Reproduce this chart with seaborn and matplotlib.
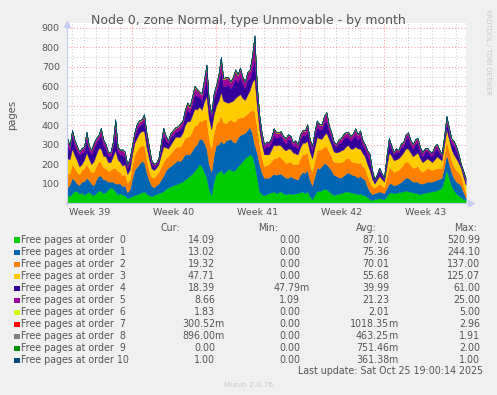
import matplotlib
matplotlib.use("Agg")
import matplotlib.pyplot as plt
import matplotlib.dates as mdates
from matplotlib.patches import Rectangle
from matplotlib.lines import Line2D
import numpy as np
import pandas as pd
import seaborn as sns

# samples every 4h48m over the month window
start = "2025-09-23 14:24"
n_points = 167

order0 = [40, 35, 50, 62, 60, 48, 55, 42, 50, 58, 45, 40, 50, 66, 60, 52, 55, 70, 80, 75, 60, 45, 50, 42,
          40, 25, 30, 35, 40, 45, 50, 55, 60, 48, 40, 35, 40, 45, 50, 55, 60, 72, 80, 85, 90, 95, 100, 105,
          110, 120, 130, 140, 150, 165, 180, 200, 190, 160, 130, 70, 40, 110, 150, 160, 170, 150, 160, 175, 170, 165, 170, 190,
          200, 215, 230, 240, 250, 240, 200, 130, 60, 45, 40, 45, 50, 55, 60, 50, 55, 60, 50, 45, 50, 48, 45, 50,
          50, 55, 60, 50, 60, 35, 20, 40, 60, 62, 65, 75, 70, 60, 50, 40, 45, 48, 50, 55, 60, 58, 55, 52,
          50, 45, 50, 42, 40, 30, 20, 15, 20, 22, 25, 22, 20, 35, 50, 55, 50, 52, 55, 58, 60, 65, 60, 58,
          55, 52, 50, 45, 50, 52, 55, 58, 60, 62, 65, 72, 80, 120, 170, 130, 90, 65, 50, 40, 30, 22, 14.09]
order1 = [40, 60, 80, 55, 40, 45, 55, 70, 80, 60, 55, 50, 70, 75, 80, 70, 65, 40, 30, 35, 40, 55, 50, 45,
          50, 30, 40, 90, 130, 140, 150, 160, 150, 110, 80, 55, 40, 45, 50, 65, 80, 95, 100, 105, 110, 115, 120, 110,
          120, 130, 120, 110, 120, 125, 120, 130, 140, 150, 150, 130, 120, 135, 150, 140, 150, 155, 160, 150, 160, 150, 140, 145,
          150, 140, 130, 135, 140, 120, 100, 130, 140, 110, 90, 85, 80, 85, 90, 95, 95, 90, 90, 85, 80, 90, 85, 75,
          70, 90, 100, 105, 110, 85, 70, 95, 120, 115, 125, 130, 130, 125, 120, 105, 95, 85, 80, 85, 90, 100, 95, 92,
          90, 85, 90, 85, 80, 55, 40, 30, 30, 32, 35, 32, 30, 40, 50, 45, 40, 42, 45, 50, 60, 65, 70, 62,
          55, 58, 60, 55, 50, 52, 55, 52, 50, 52, 55, 52, 50, 65, 80, 75, 70, 65, 60, 62, 60, 35, 13.02]
order2 = [70, 60, 70, 65, 60, 55, 60, 65, 70, 60, 60, 70, 70, 75, 70, 60, 60, 55, 60, 70, 80, 65, 60, 55,
          60, 50, 50, 70, 80, 85, 90, 80, 90, 70, 50, 45, 50, 55, 60, 65, 70, 65, 60, 65, 70, 75, 70, 75,
          80, 85, 90, 95, 100, 110, 100, 95, 90, 120, 150, 130, 120, 115, 110, 120, 130, 110, 90, 95, 100, 105, 110, 100,
          90, 85, 90, 85, 80, 120, 170, 130, 100, 80, 60, 65, 70, 75, 80, 85, 90, 85, 80, 75, 80, 75, 70, 75,
          80, 85, 90, 95, 90, 80, 70, 80, 90, 95, 90, 85, 90, 80, 70, 65, 70, 75, 80, 75, 80, 75, 70, 65,
          70, 75, 70, 65, 60, 55, 50, 40, 30, 35, 40, 35, 30, 55, 80, 75, 70, 70, 70, 75, 80, 85, 80, 75,
          70, 75, 80, 70, 60, 65, 70, 65, 60, 60, 60, 55, 50, 60, 70, 65, 60, 60, 60, 55, 50, 35, 19.32]
order3 = [80, 70, 80, 65, 60, 40, 30, 45, 60, 50, 40, 55, 60, 65, 70, 60, 60, 45, 40, 60, 90, 60, 50, 50,
          50, 45, 50, 55, 60, 65, 70, 75, 70, 60, 60, 45, 40, 35, 40, 60, 80, 55, 40, 45, 50, 55, 50, 50,
          50, 65, 80, 75, 80, 85, 80, 70, 60, 90, 120, 105, 100, 95, 90, 105, 120, 110, 110, 95, 90, 105, 120, 115,
          120, 100, 80, 95, 110, 140, 170, 110, 80, 70, 60, 55, 50, 60, 70, 65, 60, 60, 60, 65, 70, 65, 60, 55,
          50, 55, 60, 60, 60, 65, 70, 70, 70, 60, 50, 60, 70, 65, 60, 55, 50, 55, 60, 60, 60, 65, 60, 70,
          80, 75, 70, 65, 60, 60, 60, 40, 20, 30, 40, 35, 30, 55, 80, 70, 60, 60, 60, 60, 60, 65, 70, 65,
          60, 65, 70, 60, 50, 50, 50, 45, 40, 50, 60, 50, 40, 50, 60, 60, 60, 60, 60, 50, 40, 45, 47.71]
order4 = [70, 45, 70, 50, 50, 60, 60, 40, 70, 45, 50, 65, 60, 45, 70, 55, 40, 35, 30, 50, 90, 40, 40, 55,
          40, 30, 40, 25, 30, 45, 40, 35, 60, 45, 40, 25, 20, 15, 20, 40, 60, 35, 30, 40, 30, 25, 30, 40,
          40, 50, 60, 45, 60, 75, 70, 50, 50, 70, 90, 55, 60, 80, 70, 90, 110, 75, 80, 95, 70, 85, 100, 70,
          90, 75, 60, 80, 60, 70, 100, 60, 40, 30, 30, 45, 40, 35, 50, 40, 40, 50, 40, 35, 50, 45, 30, 40,
          30, 45, 40, 35, 50, 40, 40, 55, 50, 45, 50, 65, 60, 40, 40, 35, 30, 45, 40, 55, 50, 40, 40, 55,
          60, 45, 60, 40, 40, 45, 50, 30, 15, 20, 30, 20, 15, 40, 50, 35, 30, 40, 30, 45, 30, 50, 60, 40,
          40, 55, 50, 35, 30, 45, 40, 30, 30, 45, 40, 30, 20, 30, 40, 35, 30, 45, 40, 30, 15, 20, 18.39]
order5 = [30, 20, 20, 25, 20, 15, 20, 25, 30, 20, 20, 25, 20, 20, 30, 25, 20, 15, 20, 20, 60, 20, 20, 25,
          20, 15, 20, 20, 20, 25, 20, 20, 20, 25, 20, 15, 10, 10, 10, 20, 30, 20, 10, 15, 20, 20, 20, 25,
          20, 25, 30, 25, 30, 35, 30, 25, 30, 40, 60, 30, 20, 25, 30, 40, 60, 35, 40, 35, 30, 35, 40, 35,
          40, 30, 30, 35, 40, 60, 110, 40, 30, 25, 20, 20, 20, 25, 30, 25, 20, 20, 20, 25, 20, 20, 20, 25,
          20, 20, 20, 25, 30, 25, 20, 25, 30, 25, 20, 30, 40, 25, 20, 15, 10, 15, 20, 20, 20, 25, 20, 20,
          30, 25, 30, 25, 20, 25, 30, 15, 5, 8, 10, 8, 5, 15, 20, 15, 10, 15, 10, 15, 20, 20, 20, 20,
          20, 20, 20, 20, 20, 15, 10, 15, 20, 20, 20, 15, 10, 15, 20, 20, 20, 20, 20, 15, 5, 8, 8.66]
order6 = [2, 2, 3, 2, 2, 2, 2, 2, 3, 2, 2, 2, 2, 2, 3, 2, 2, 1, 1, 2, 4, 2, 2, 2,
          2, 1, 1, 2, 2, 2, 3, 3, 3, 2, 2, 1, 1, 1, 1, 2, 3, 2, 2, 2, 2, 2, 2, 2,
          2, 2, 3, 3, 3, 3, 3, 2, 2, 3, 5, 2, 1, 2, 3, 3, 4, 3, 3, 2, 2, 2, 3, 3,
          3, 2, 2, 2, 3, 4, 5, 3, 2, 1, 1, 1, 1, 2, 2, 2, 2, 2, 2, 2, 2, 1, 1, 1,
          1, 2, 2, 2, 2, 1, 1, 2, 2, 2, 2, 3, 3, 2, 2, 1, 1, 2, 2, 2, 2, 2, 2, 2,
          2, 2, 2, 1, 1, 1, 1, 1, 1, 1, 1, 1, 1, 2, 2, 1, 1, 1, 1, 2, 2, 2, 2, 2,
          2, 2, 2, 1, 1, 2, 2, 1, 1, 2, 2, 1, 1, 2, 3, 2, 2, 2, 2, 1, 1, 1, 1.83]
order7 = [1, 1, 1, 1, 1, 1, 1, 1, 1, 1, 1, 1, 1, 1, 2, 1, 1, 1, 1, 2, 3, 1, 1, 1,
          1, 1, 1, 1, 1, 1, 1, 1, 2, 1, 1, 1, 1, 1, 1, 1, 2, 1, 1, 1, 1, 1, 1, 1,
          1, 1, 2, 2, 2, 2, 2, 1, 1, 2, 3, 1, 1, 1, 2, 2, 3, 2, 2, 1, 1, 1, 2, 2,
          2, 1, 1, 1, 2, 2, 3, 1, 1, 1, 1, 0, 0, 0, 1, 1, 1, 1, 1, 1, 1, 1, 1, 1,
          1, 1, 1, 1, 1, 0, 0, 0, 1, 1, 1, 1, 2, 1, 1, 1, 1, 1, 1, 1, 1, 1, 1, 1,
          1, 1, 1, 1, 1, 0, 0, 0, 0, 0, 0, 0, 0, 0, 1, 1, 1, 1, 1, 1, 1, 1, 1, 1,
          1, 1, 1, 1, 1, 1, 1, 0, 0, 0, 1, 1, 1, 1, 2, 1, 1, 1, 1, 0, 0, 0, 0.3]
order8 = [0, 0, 1, 0, 0, 0, 0, 0, 1, 0, 0, 0, 0, 0, 1, 0, 0, 0, 0, 1, 2, 0, 0, 0,
          0, 0, 0, 0, 0, 0, 1, 1, 1, 0, 0, 0, 0, 0, 0, 0, 1, 0, 0, 0, 1, 0, 0, 0,
          0, 0, 1, 1, 1, 1, 1, 0, 0, 1, 2, 0, 0, 0, 1, 1, 2, 1, 1, 0, 0, 0, 1, 1,
          1, 0, 0, 0, 1, 1, 2, 0, 0, 0, 0, 0, 0, 0, 0, 0, 1, 0, 0, 0, 0, 0, 0, 0,
          0, 0, 0, 0, 1, 0, 0, 0, 1, 0, 0, 0, 1, 0, 0, 0, 0, 0, 0, 0, 0, 0, 1, 0,
          0, 0, 0, 0, 0, 0, 0, 0, 0, 0, 0, 0, 0, 0, 1, 0, 0, 0, 0, 0, 1, 0, 0, 0,
          0, 0, 1, 0, 0, 0, 0, 0, 0, 0, 1, 0, 0, 0, 1, 0, 0, 0, 0, 0, 0, 0, 0.9]
order9 = [1, 1, 1, 1, 1, 0, 0, 0, 1, 1, 1, 1, 1, 1, 1, 1, 1, 0, 0, 1, 2, 1, 1, 1,
          1, 0, 0, 0, 1, 1, 1, 1, 1, 1, 1, 0, 0, 0, 0, 0, 1, 1, 1, 1, 1, 1, 1, 1,
          1, 1, 1, 1, 1, 1, 1, 1, 1, 1, 2, 0, 0, 0, 1, 1, 2, 1, 1, 1, 1, 1, 1, 1,
          1, 1, 1, 1, 1, 1, 2, 1, 1, 0, 0, 0, 0, 0, 1, 1, 1, 1, 1, 1, 1, 0, 0, 0,
          1, 1, 1, 1, 1, 0, 0, 0, 1, 1, 1, 1, 1, 1, 1, 0, 0, 0, 1, 1, 1, 1, 1, 1,
          1, 1, 1, 0, 0, 0, 0, 0, 0, 0, 0, 0, 0, 0, 1, 0, 0, 0, 1, 1, 1, 1, 1, 1,
          1, 1, 1, 0, 0, 0, 1, 0, 0, 0, 1, 0, 0, 0, 1, 1, 1, 0, 0, 0, 0, 0, 0]
order10 = [0, 0, 0, 0, 1, 0, 0, 0, 0, 0, 0, 0, 1, 0, 0, 0, 0, 0, 0, 0, 1, 0, 0, 0,
           0, 0, 0, 0, 1, 0, 0, 0, 0, 0, 1, 0, 0, 0, 0, 0, 0, 0, 0, 0, 1, 0, 0, 0,
           0, 0, 1, 0, 0, 0, 0, 0, 1, 1, 1, 0, 0, 0, 0, 0, 1, 0, 0, 0, 1, 0, 0, 0,
           1, 0, 0, 0, 0, 0, 1, 0, 0, 0, 0, 0, 0, 0, 0, 0, 1, 0, 0, 0, 0, 0, 0, 0,
           0, 0, 1, 0, 0, 0, 0, 0, 0, 0, 1, 0, 0, 0, 0, 0, 0, 0, 0, 0, 1, 0, 0, 0,
           0, 0, 0, 0, 0, 0, 0, 0, 0, 0, 0, 0, 0, 0, 0, 0, 1, 0, 0, 0, 0, 0, 0, 0,
           1, 0, 0, 0, 0, 0, 0, 0, 0, 0, 1, 0, 0, 0, 1, 0, 0, 0, 0, 0, 0, 0, 1]

series = [order0, order1, order2, order3, order4, order5,
          order6, order7, order8, order9, order10]
colors = ["#00CC00", "#0066B3", "#FF8000", "#FFCC00", "#330099", "#990099",
          "#CCFF00", "#FF0000", "#808080", "#008F00", "#00487D"]
labels = ["Free pages at order  %d" % k for k in range(10)] + ["Free pages at order 10"]

cur = ["14.09", "13.02", "19.32", "47.71", "18.39", "8.66", "1.83", "300.52m", "896.00m", "0.00", "1.00"]
mins = ["0.00", "0.00", "0.00", "0.00", "47.79m", "1.09", "0.00", "0.00", "0.00", "0.00", "0.00"]
avgs = ["87.10", "75.36", "70.01", "55.68", "39.99", "21.23", "2.01", "1018.35m", "463.25m", "751.46m", "361.38m"]
maxs = ["520.99", "244.10", "137.00", "125.07", "61.00", "25.00", "5.00", "2.96", "1.91", "2.00", "1.00"]

yticks = [100, 200, 300, 400, 500, 600, 700, 800, 900]

times = pd.date_range(start, periods=n_points, freq="288min")
df = pd.DataFrame({lab: vals for lab, vals in zip(labels, series)}, index=times)

sns.set_theme(style="white", rc={"axes.facecolor": "white", "figure.facecolor": "#F0F0F0"})
plt.rcParams["font.family"] = ["DejaVu Sans"]

TXT = "#555555"
W, H = 497, 395
def fx(x): return x / W
def fy(y): return 1 - y / H

fig = plt.figure(figsize=(W / 100, H / 100), dpi=100)
ax = fig.add_axes([fx(67), fy(203), (466 - 67) / W, (203 - 23) / H])

x = mdates.date2num(df.index.values)
ax.stackplot(x, *[df[c].values for c in df.columns], colors=colors,
             linewidth=0.3, edgecolor="face")

origin = pd.Timestamp("2025-09-22")
ax.set_xlim(mdates.date2num(origin + pd.Timedelta(days=1.58)),
            mdates.date2num(origin + pd.Timedelta(days=34.83)))
ax.set_ylim(0, 925)

mondays = pd.date_range("2025-09-29", "2025-10-20", freq="7D")
days = pd.date_range("2025-09-24", "2025-10-26", freq="D")
ax.set_xticks(mdates.date2num(mondays.values))
ax.set_xticks(mdates.date2num(days.values), minor=True)
ax.set_yticks(yticks)
ax.set_yticklabels([str(v) for v in yticks])
ax.set_yticks([v - 50 for v in yticks], minor=True)

ax.set_axisbelow(True)
ax.grid(which="major", color="#FF0000", alpha=0.4, linestyle=(0, (1, 2)), linewidth=0.75)
ax.grid(which="minor", color="#909090", alpha=0.45, linestyle=(0, (1, 2)), linewidth=0.75)
ax.tick_params(axis="x", which="major", length=2.2, color="#FF8080", labelbottom=False, direction="out")
ax.tick_params(axis="x", which="minor", length=2.2, color="#C0C0C0", direction="out")
ax.tick_params(axis="y", which="major", length=2.2, color="#FF8080", direction="out",
               labelsize=6.8, labelcolor=TXT, pad=3)
ax.tick_params(axis="y", which="minor", length=2.2, color="#C0C0C0", direction="out")
sns.despine(ax=ax, top=True, right=True, left=True, bottom=True)

# week labels centred in each week
for monday in pd.date_range("2025-09-22", periods=5, freq="7D"):
    mid = mdates.date2num(monday + pd.Timedelta(days=3.5))
    ax.annotate("Week %d" % monday.isocalendar().week, xy=(mid, 0),
                xycoords=("data", "axes fraction"), xytext=(0, -6.6),
                textcoords="offset points", ha="center", va="center",
                fontsize=6.8, color=TXT, annotation_clip=False)

# axes with arrows
AX = "#C4CCF4"
fig.add_artist(Line2D([fx(65), fx(470)], [fy(203), fy(203)], color=AX, lw=0.8))
fig.add_artist(Line2D([fx(67), fx(67)], [fy(205), fy(25)], color=AX, lw=0.8))
fig.add_artist(Line2D([fx(471)], [fy(203)], marker=">", ms=4, color=AX, mec=AX))
fig.add_artist(Line2D([fx(67)], [fy(24)], marker="^", ms=4, color=AX, mec=AX))

fig.text(fx(248.7), fy(24), "Node 0, zone Normal, type Unmovable - by month",
         ha="center", va="baseline", fontsize=9, color=TXT)
fig.text(fx(12), fy(115), "pages", rotation=90, ha="center", va="center",
         fontsize=7.2, color=TXT)
fig.text(fx(488), fy(52), "RRDTOOL / TOBI OETIKER", rotation=270, ha="center",
         va="center", fontsize=4.9, color="#C8C8C8")

# legend table
fig.text(fx(180), fy(231), "Cur:", ha="right", va="baseline", fontsize=6.85, color=TXT)
fig.text(fx(278), fy(231), "Min:", ha="right", va="baseline", fontsize=6.85, color=TXT)
fig.text(fx(377), fy(231), "Avg:", ha="right", va="baseline", fontsize=6.85, color=TXT)
fig.text(fx(477), fy(231), "Max:", ha="right", va="baseline", fontsize=6.85, color=TXT)

col_x = [215, 300, 389, 480]
for k, lab in enumerate(labels):
    base = 243.3 + 12 * k
    fig.add_artist(Rectangle((fx(14), fy(base - 0.3)), 6 / W, 5.5 / H,
                             facecolor=colors[k], edgecolor="none"))
    fig.text(fx(20.7), fy(base), lab, ha="left", va="baseline", fontsize=6.85, color=TXT)
    for cx, col in zip(col_x, [cur, mins, avgs, maxs]):
        s = col[k]
        num = s[:-1] if s.endswith("m") else s
        fig.text(fx(cx), fy(base), num, ha="right", va="baseline", fontsize=6.85, color=TXT)
        if s.endswith("m"):
            fig.text(fx(cx - 1), fy(base), "m", ha="left", va="baseline", fontsize=6.85, color=TXT)

fig.text(fx(483), fy(374.3), "Last update: Sat Oct 25 19:00:14 2025", ha="right",
         va="baseline", fontsize=6.85, color=TXT)
fig.text(fx(248), fy(386.7), "Munin 2.0.76", ha="center", va="baseline",
         fontsize=5.4, color="#C8C8C8")

fig.savefig("out.png", dpi=100, facecolor=fig.get_facecolor())
